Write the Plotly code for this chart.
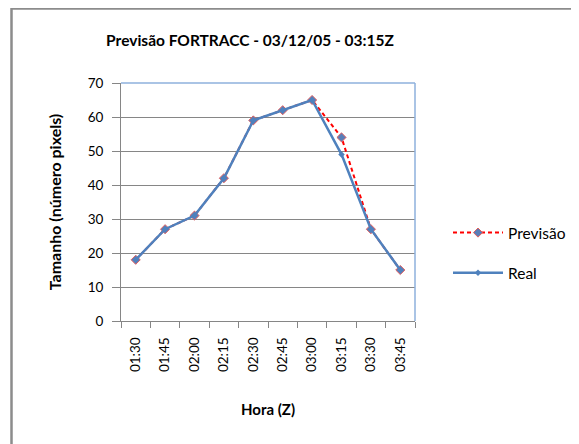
import plotly.graph_objects as go

horas = ["01:30", "01:45", "02:00", "02:15", "02:30", "02:45", "03:00", "03:15", "03:30", "03:45"]
previsao = [18, 27, 31, 42, 59, 62, 65, 54, 27, 15]
real = [18, 27, 31, 42, 59, 62, 65, 49, 27, 15]

FONT = "Lato"
# page is drawn with an 8px body margin; compensate so page coordinates match
PW, PH = 294, 238  # plot area size
def px(x):  # page x -> paper x
    return (x - 121) / PW
def py(y):  # page y -> paper y
    return (321 - y) / PH

fig = go.Figure()
fig.add_trace(go.Scatter(
    x=horas, y=previsao, name="Previsão", mode="lines+markers",
    line=dict(color="#FF0000", width=2, dash="4px,3px"),
    marker=dict(symbol="diamond", size=7, color="#5A7EB8", line=dict(color="#E06060", width=1)),
    legendgroup="a",
))
fig.add_trace(go.Scatter(
    x=horas, y=real, name="Real", mode="lines+markers",
    line=dict(color="#4F81BD", width=2.5),
    marker=dict(symbol="diamond", size=5, color="#4F81BD"),
    legendgroup="b",
))

fig.update_layout(
    width=571, height=436,
    margin=dict(l=113, r=164, t=75, b=123, autoexpand=False),
    paper_bgcolor="white", plot_bgcolor="white",
    font=dict(family=FONT, size=13.5, color="#000000"),
    title=dict(text="<b>Previsão FORTRACC - 03/12/05 - 03:15Z</b>", x=242 / 571, xanchor="center",
               y=1 - 33 / 436, yanchor="middle", font=dict(size=15.5, family=FONT)),
    showlegend=True,
    legend=dict(x=px(448), y=py(216), xanchor="left", yanchor="top",
                font=dict(size=15.5, family=FONT), tracegroupgap=17, traceorder="grouped",
                itemwidth=50, bgcolor="rgba(0,0,0,0)"),
    xaxis=dict(
        type="category", range=[-0.5, 9.5], tickson="boundaries",
        ticks="outside", ticklen=6, tickcolor="#868686",
        showline=True, linecolor="#868686", linewidth=1,
        showgrid=False, tickangle=-90, tickfont=dict(size=13.5, family=FONT),
        ticklabelstandoff=10,
        title=dict(text="<b>Hora (Z)</b>", font=dict(size=15, family=FONT), standoff=33),
    ),
    yaxis=dict(
        range=[0, 70], dtick=10, ticks="outside", ticklen=8, tickcolor="#868686",
        showline=True, linecolor="#868686", linewidth=1,
        showgrid=True, gridcolor="#868686", gridwidth=1, zeroline=False,
        tickfont=dict(size=13.5, family=FONT), ticklabelstandoff=6,
        title=dict(text="<b>Tamanho (número pixels)</b>", font=dict(size=16, family=FONT), standoff=22),
    ),
)

# plot-area top and right borders (blue)
fig.add_shape(type="line", xref="paper", yref="paper", x0=0, x1=1, y0=1, y1=1,
              line=dict(color="#8EB0DD", width=1.5))
fig.add_shape(type="line", xref="paper", yref="paper", x0=1, x1=1, y0=0, y1=1,
              line=dict(color="#8EB0DD", width=1.5))
# outer chart frame (gray), extending past the right and bottom edges
fig.add_shape(type="rect", xref="paper", yref="paper",
              x0=px(11.5), x1=px(600), y0=py(470), y1=py(8.5),
              line=dict(color="#8C8C8C", width=2.5))

fig.write_html("out.html")
